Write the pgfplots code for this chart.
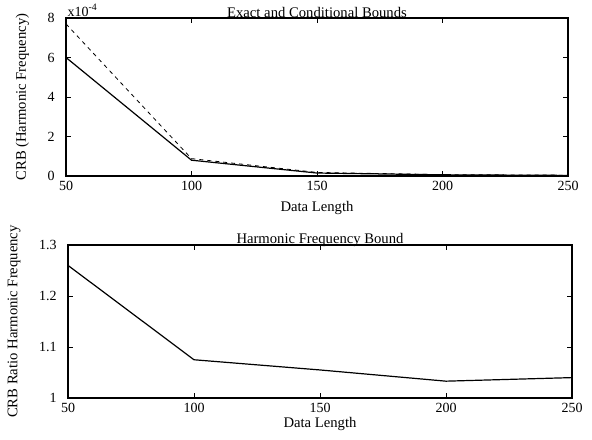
\documentclass[border=0pt]{standalone}
\usepackage{fontspec}
\setmainfont{Liberation Serif}
\usepackage{pgfplots}
\pgfplotsset{compat=1.18}
\begin{document}
\begin{tikzpicture}
\useasboundingbox (0,0) rectangle (444pt,-329.25pt);
\pgfplotsset{
  mystyle/.style={
    scale only axis,
    clip mode=individual,
    axis line style={line width=0.8pt},
    tick align=inside,
    major tick length=4pt,
    every tick/.style={black, line width=0.5pt},
    /pgf/number format/assume math mode=true,
    tick label style={font=\fontsize{10.5}{12}\selectfont},
    yticklabel style={xshift=-5pt},
    label style={font=\fontsize{11}{13}\selectfont},
    title style={font=\fontsize{11}{13}\selectfont, yshift=-7pt},
    xmin=50, xmax=250,
    xtick={50,100,150,200,250},
    xlabel={Data Length},
    ylabel style={yshift=7pt},
  }
}
\begin{axis}[mystyle,
  at={(49.5pt,-13.5pt)}, anchor=north west,
  width=376.5pt, height=118.5pt,
  ymin=0, ymax=8, ytick={0,2,4,6,8},
  title={Exact and Conditional Bounds},
  title style={yshift=-2pt},
  ylabel={CRB (Harmonic Frequency)},
  xlabel style={yshift=-1.5pt},
]
\addplot[black, no marks, line width=0.9pt] coordinates {(50,6.0) (100,0.80) (150,0.15) (200,0.06) (250,0.03)};
\addplot[black, no marks, dashed, line width=0.6pt] coordinates {(50,7.7) (100,0.88) (150,0.18) (200,0.07) (250,0.04)};
\node[anchor=south west, inner sep=1pt, font=\fontsize{10.5}{12}\selectfont] at (rel axis cs:0,1) {x10\textsuperscript{-4}};
\end{axis}
\begin{axis}[mystyle,
  at={(51pt,-183.75pt)}, anchor=north west,
  width=378pt, height=114.75pt,
  ymin=1, ymax=1.3, ytick={1,1.1,1.2,1.3},
  yticklabels={1,1.1,1.2,1.3},
  title={Harmonic Frequency Bound},
  title style={yshift=-4pt},
  ylabel={CRB Ratio Harmonic Frequency},
  xlabel style={yshift=3pt},
]
\addplot[black, no marks, line width=0.9pt] coordinates {(50,1.26) (100,1.075) (150,1.055) (200,1.033) (250,1.040)};
\end{axis}
\end{tikzpicture}
\end{document}
